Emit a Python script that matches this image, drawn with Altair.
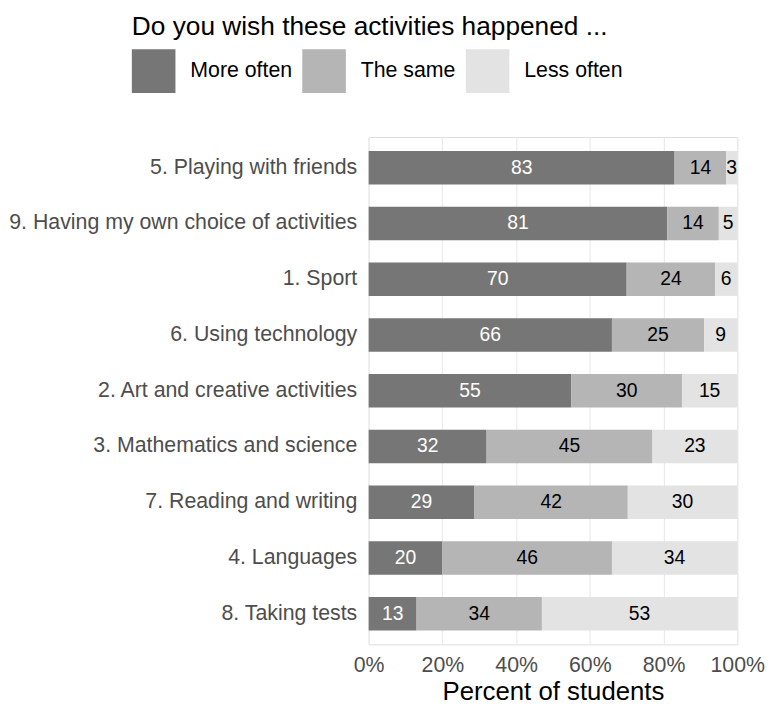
import altair as alt
import pandas as pd

activities = [
    "5. Playing with friends",
    "9. Having my own choice of activities",
    "1. Sport",
    "6. Using technology",
    "2. Art and creative activities",
    "3. Mathematics and science",
    "7. Reading and writing",
    "4. Languages",
    "8. Taking tests",
]
more_often = [83, 81, 70, 66, 55, 32, 29, 20, 13]
the_same = [14, 14, 24, 25, 30, 45, 42, 46, 34]
less_often = [3, 5, 6, 9, 15, 23, 30, 34, 53]
responses = ["More often", "The same", "Less often"]
colors = ["#767676", "#b5b5b5", "#e3e3e3"]
text_colors = ["white", "black", "black"]

rows = []
for i, a in enumerate(activities):
    for j, (resp, vals) in enumerate(zip(responses, [more_often, the_same, less_often])):
        rows.append({"activity": a, "response": resp, "value": vals[i], "order": j,
                     "tcolor": text_colors[j]})
df = pd.DataFrame(rows)

base = alt.Chart(df)

y_enc = alt.Y("activity:N", sort=activities, title=None,
              scale=alt.Scale(paddingInner=0.4, paddingOuter=0.25),
              axis=alt.Axis(ticks=False, domain=False, grid=False, labelFontSize=21.5,
                            labelColor="#4d4d4d", labelPadding=12, labelLimit=600,
                            labelFont="Liberation Sans"))

bars = base.mark_bar().encode(
    y=y_enc,
    x=alt.X("value:Q", stack="normalize", title="Percent of students",
            scale=alt.Scale(domain=[0, 1], nice=False),
            axis=alt.Axis(format=".0%", values=[0, 0.2, 0.4, 0.6, 0.8, 1.0], ticks=False,
                          domain=False, gridColor="#ebebeb", gridWidth=1.2,
                          labelFontSize=21.5, labelColor="#4d4d4d", labelPadding=10,
                          labelFont="Liberation Sans", titleFont="Liberation Sans",
                          titleFontSize=26, titleFontWeight="normal", titleColor="black",
                          titlePadding=3, labelFlush=False)),
    color=alt.Color("response:N", sort=responses,
                    scale=alt.Scale(domain=responses, range=colors),
                    legend=alt.Legend(title="Do you wish these activities happened ...",
                                      orient="none", legendX=-239, legendY=-124,
                                      direction="horizontal", titleFontSize=26.5,
                                      titleFontWeight="normal", titleColor="black",
                                      titleFont="Liberation Sans", titlePadding=9,
                                      titleLimit=1000,
                                      labelFont="Liberation Sans", labelFontSize=21.5,
                                      labelColor="black", labelLimit=400,
                                      symbolType="square",
                                      symbolSize=1936, symbolStrokeWidth=0,
                                      symbolOpacity=1, labelOffset=15,
                                      columnPadding=10)),
    order=alt.Order("order:Q"),
)

labels = base.transform_stack(
    stack="value", groupby=["activity"], as_=["x0", "x1"],
    sort=[alt.SortField("order", order="ascending")], offset="normalize"
).transform_calculate(
    mid="(datum.x0 + datum.x1) / 2"
).mark_text(fontSize=19.5, font="Liberation Sans").encode(
    y=alt.Y("activity:N", sort=activities),
    x=alt.X("mid:Q"),
    text=alt.Text("value:Q"),
    color=alt.Color("tcolor:N", scale=None),
)

chart = alt.layer(bars, labels).properties(
    width=372, height=512, padding={"left": 0, "top": 3, "right": 0, "bottom": 0}
).configure_view(stroke="#ebebeb", strokeWidth=1.2).configure(background="white")

chart.save("out.html", embed_options={"renderer": "svg", "actions": False})
